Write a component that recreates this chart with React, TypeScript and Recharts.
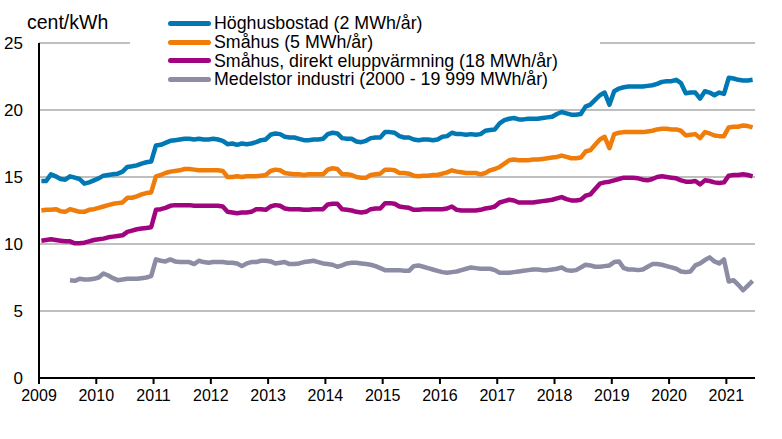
import { LineChart, Line, XAxis, YAxis, CartesianGrid, Legend } from "recharts";

const FONT = '"Liberation Sans", Arial, sans-serif';
const START_YEAR = 2009;
const YEAR_TICKS = [2009, 2010, 2011, 2012, 2013, 2014, 2015, 2016, 2017, 2018, 2019, 2020, 2021];
const Y_TICKS = [0, 5, 10, 15, 20, 25];
const SERIES_ORDER = ["hoghus", "smahus", "smahusEl", "industri"];

// monthly prices, cent/kWh, Jan 2009 - Jun 2021
const hoghus = [
  14.7, 14.7, 15.2, 15.05, 14.85, 14.8, 15.05, 14.95, 14.85, 14.5, 14.6, 14.75,
  14.9, 15.1, 15.15, 15.2, 15.25, 15.4, 15.75, 15.8, 15.87, 16.0, 16.1, 16.15,
  17.35, 17.4, 17.55, 17.7, 17.75, 17.8, 17.85, 17.85, 17.8, 17.85, 17.8, 17.8,
  17.85, 17.8, 17.7, 17.45, 17.5, 17.4, 17.5, 17.45, 17.5, 17.6, 17.75, 17.8,
  18.15, 18.25, 18.2, 18.0, 17.95, 17.95, 17.85, 17.75, 17.75, 17.8, 17.8, 17.85,
  18.2, 18.3, 18.25, 17.9, 17.85, 17.85, 17.65, 17.6, 17.7, 17.9, 17.95, 17.95,
  18.35, 18.35, 18.3, 18.05, 17.95, 17.95, 17.8, 17.75, 17.8, 17.8, 17.75, 17.8,
  18.0, 18.05, 18.3, 18.2, 18.2, 18.15, 18.2, 18.15, 18.2, 18.45, 18.5, 18.55,
  19.0, 19.25, 19.35, 19.4, 19.3, 19.3, 19.35, 19.35, 19.35, 19.4, 19.45, 19.5,
  19.7, 19.85, 19.75, 19.65, 19.65, 19.7, 20.25, 20.4, 20.75, 21.1, 21.3, 20.4,
  21.4, 21.6, 21.7, 21.75, 21.75, 21.75, 21.75, 21.8, 21.85, 21.95, 22.1, 22.15,
  22.15, 22.25, 22.0, 21.25, 21.3, 21.3, 20.85, 21.4, 21.3, 21.1, 21.3, 21.2,
  22.4, 22.35, 22.25, 22.2, 22.2, 22.25,
];

const smahus = [
  12.5, 12.55, 12.55, 12.6, 12.45, 12.4, 12.6, 12.5, 12.4, 12.4, 12.55, 12.6,
  12.7, 12.8, 12.9, 13.0, 13.05, 13.1, 13.45, 13.45, 13.55, 13.7, 13.8, 13.85,
  15.05, 15.15, 15.3, 15.4, 15.45, 15.5, 15.6, 15.6, 15.55, 15.5, 15.5, 15.5,
  15.5, 15.5, 15.45, 15.0, 15.0, 15.05, 15.0, 15.05, 15.05, 15.05, 15.1, 15.15,
  15.45, 15.55, 15.5, 15.3, 15.25, 15.2, 15.2, 15.15, 15.2, 15.2, 15.2, 15.2,
  15.55, 15.65, 15.6, 15.2, 15.2, 15.15, 15.0, 14.95, 14.95, 15.15, 15.2, 15.25,
  15.55, 15.55, 15.5, 15.3, 15.3, 15.25, 15.1, 15.05, 15.1, 15.1, 15.15, 15.15,
  15.25, 15.35, 15.5, 15.4, 15.35, 15.3, 15.3, 15.3, 15.2, 15.3, 15.5, 15.6,
  15.75, 16.0, 16.25, 16.3, 16.25, 16.25, 16.25, 16.3, 16.3, 16.35, 16.4, 16.45,
  16.5, 16.6, 16.5, 16.4, 16.4, 16.45, 16.9, 17.0, 17.4, 17.8, 18.0, 17.15,
  18.2, 18.3, 18.35, 18.35, 18.35, 18.35, 18.35, 18.4, 18.45, 18.55, 18.6, 18.6,
  18.55, 18.55, 18.45, 18.1, 18.15, 18.2, 17.9, 18.35, 18.25, 18.1, 18.05, 18.05,
  18.7, 18.75, 18.75, 18.85, 18.8, 18.7,
];

const smahusEl = [
  10.25, 10.3, 10.35, 10.3, 10.25, 10.2, 10.2, 10.05, 10.05, 10.1, 10.2, 10.3,
  10.35, 10.4, 10.5, 10.55, 10.6, 10.65, 10.9, 11.0, 11.1, 11.15, 11.2, 11.25,
  12.55, 12.6, 12.7, 12.85, 12.9, 12.9, 12.9, 12.9, 12.85, 12.85, 12.85, 12.85,
  12.85, 12.85, 12.8, 12.4, 12.35, 12.3, 12.35, 12.35, 12.4, 12.6, 12.6, 12.55,
  12.8, 12.9, 12.85, 12.65, 12.6, 12.6, 12.6, 12.55, 12.55, 12.6, 12.6, 12.6,
  12.95, 13.0, 13.0, 12.6, 12.55, 12.5, 12.4, 12.35, 12.4, 12.6, 12.65, 12.65,
  13.05, 13.05, 13.0, 12.8, 12.75, 12.7, 12.55, 12.55, 12.6, 12.6, 12.6, 12.6,
  12.6, 12.65, 12.8, 12.55, 12.5, 12.5, 12.5, 12.5, 12.55, 12.65, 12.7, 12.8,
  13.1, 13.2, 13.3, 13.25, 13.1, 13.1, 13.1, 13.1, 13.15, 13.2, 13.25, 13.3,
  13.4, 13.5, 13.35, 13.25, 13.25, 13.3, 13.6, 13.7, 14.1, 14.5, 14.6, 14.65,
  14.75, 14.85, 14.95, 14.95, 14.95, 14.9, 14.8, 14.75, 14.85, 15.0, 15.05, 15.0,
  14.95, 14.9, 14.75, 14.65, 14.65, 14.7, 14.45, 14.75, 14.7, 14.6, 14.55, 14.6,
  15.1, 15.15, 15.15, 15.2, 15.15, 15.05,
];

const industri = [
  null, null, null, null, null, null, 7.3, 7.25, 7.4, 7.35, 7.35, 7.4,
  7.5, 7.8, 7.65, 7.45, 7.3, 7.35, 7.4, 7.4, 7.4, 7.45, 7.5, 7.6,
  8.85, 8.75, 8.7, 8.85, 8.7, 8.65, 8.65, 8.65, 8.5, 8.75, 8.65, 8.6,
  8.65, 8.65, 8.65, 8.6, 8.6, 8.55, 8.35, 8.55, 8.65, 8.65, 8.75, 8.75,
  8.7, 8.55, 8.6, 8.65, 8.5, 8.5, 8.55, 8.65, 8.7, 8.75, 8.65, 8.55,
  8.5, 8.45, 8.3, 8.4, 8.55, 8.6, 8.6, 8.55, 8.5, 8.45, 8.35, 8.2,
  8.05, 8.05, 8.05, 8.05, 8.0, 8.0, 8.35, 8.4, 8.3, 8.2, 8.1, 8.0,
  7.9, 7.85, 7.9, 7.95, 8.05, 8.15, 8.25, 8.2, 8.15, 8.15, 8.15, 8.05,
  7.85, 7.85, 7.85, 7.9, 7.95, 8.0, 8.05, 8.1, 8.1, 8.05, 8.05, 8.1,
  8.15, 8.25, 8.05, 8.0, 8.05, 8.25, 8.45, 8.4, 8.3, 8.3, 8.35, 8.4,
  8.65, 8.7, 8.2, 8.1, 8.1, 8.05, 8.1, 8.3, 8.5, 8.5, 8.45, 8.35,
  8.25, 8.15, 7.95, 7.9, 7.95, 8.4, 8.55, 8.8, 9.0, 8.7, 8.55, 8.85,
  7.2, 7.3, 6.95, 6.55, 6.9, 7.25,
];

const data = hoghus.map((v, i) => ({
  t: START_YEAR + (i + 0.5) / 12,
  hoghus: v,
  smahus: smahus[i],
  smahusEl: smahusEl[i],
  industri: industri[i],
}));

function LegendBox({ payload }: any) {
  // keep the series order instead of the alphabetical one
  const items = [...(payload || [])].sort(
    (a: any, b: any) => SERIES_ORDER.indexOf(a.dataKey) - SERIES_ORDER.indexOf(b.dataKey)
  );
  return (
    <div style={{ background: "#fff", paddingLeft: 38, fontFamily: FONT, fontSize: 17.8, color: "#000" }}>
      {items.map((p: any) => (
        <div key={p.value} style={{ display: "flex", alignItems: "center", height: 18.8, whiteSpace: "nowrap" }}>
          <span style={{ display: "inline-block", width: 43, height: 5, borderRadius: 3, background: p.color, marginRight: 3 }} />
          <span>{p.value}</span>
        </div>
      ))}
    </div>
  );
}

export default function App() {
  return (
    <div style={{ position: "relative", width: 782, height: 439, background: "#fff", fontFamily: FONT }}>
      <style>{"body{margin:0}"}</style>
      <div style={{ position: "absolute", left: 27, top: 11, fontSize: 19.5, lineHeight: "22px", color: "#000" }}>cent/kWh</div>
      <LineChart width={782} height={439} data={data} margin={{ top: 43, right: 27, bottom: 31, left: 0 }} style={{ fontFamily: FONT }}>
        <CartesianGrid vertical={false} stroke="#bfbfbf" strokeWidth={2} />
        <XAxis
          dataKey="t"
          type="number"
          domain={[2009, 2021.5]}
          ticks={YEAR_TICKS}
          allowDataOverflow
          height={30}
          stroke="#000"
          strokeWidth={2}
          tickSize={6}
          tickMargin={6}
          tick={{ fontSize: 16, fill: "#000" }}
        />
        <YAxis
          domain={[0, 25]}
          ticks={Y_TICKS}
          width={39}
          stroke="#000"
          strokeWidth={2}
          tickLine={false}
          tickMargin={10}
          tick={{ fontSize: 17, fill: "#000" }}
        />
        <Legend
          layout="horizontal"
          verticalAlign="middle"
          align="center"
          itemSorter={null}
          content={<LegendBox />}
          wrapperStyle={{ top: 14, left: 130, width: 470, height: 76 }}
        />
        <Line dataKey="hoghus" name="Höghusbostad (2 MWh/år)" stroke="#0078b4" strokeWidth={4.5} dot={false} isAnimationActive={false} strokeLinejoin="round" />
        <Line dataKey="smahus" name="Småhus (5 MWh/år)" stroke="#f07d0a" strokeWidth={4.5} dot={false} isAnimationActive={false} strokeLinejoin="round" />
        <Line dataKey="smahusEl" name="Småhus, direkt eluppvärmning (18 MWh/år)" stroke="#a0047f" strokeWidth={4.5} dot={false} isAnimationActive={false} strokeLinejoin="round" />
        <Line dataKey="industri" name="Medelstor industri (2000 - 19 999 MWh/år)" stroke="#8c8ca4" strokeWidth={4.5} dot={false} isAnimationActive={false} strokeLinejoin="round" />
      </LineChart>
    </div>
  );
}
